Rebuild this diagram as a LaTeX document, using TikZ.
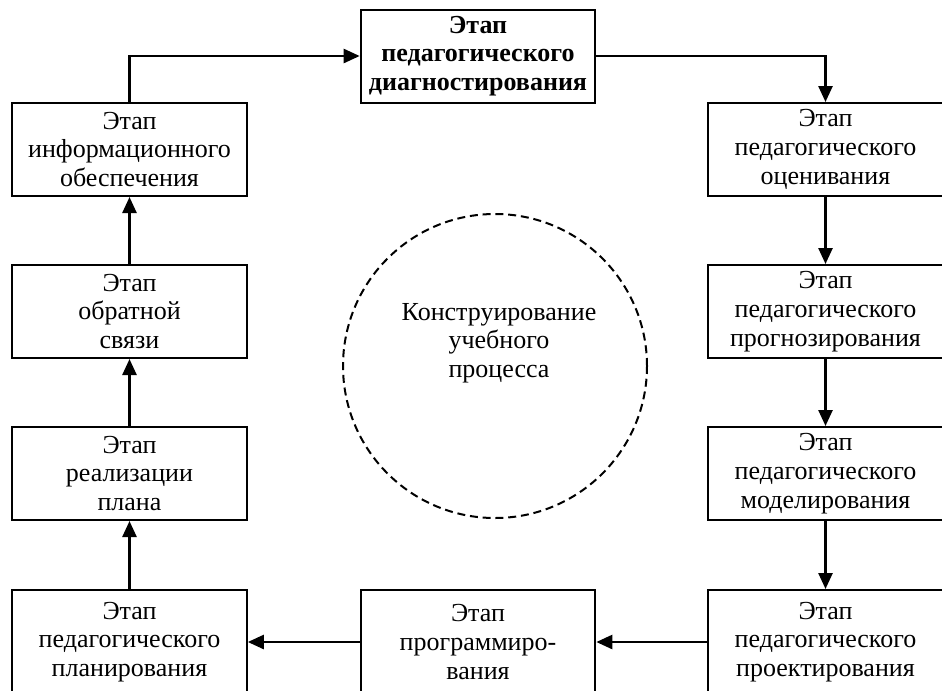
\documentclass[tikz,border=0pt]{standalone}
\usepackage{fontspec}
\setmainfont{Liberation Serif}
\usetikzlibrary{arrows.meta}
\begin{document}
\begin{tikzpicture}[x=0.75pt,y=-0.75pt,
  stage/.style={draw, line width=1.5pt, minimum width=176pt, minimum height=69.75pt,
    align=center, inner sep=0pt, font=\fontsize{19.5}{21.6}\selectfont},
  openstage/.style={stage, minimum height=78pt},
  arr/.style={line width=1.9pt, -{Triangle[length=12pt,width=10.5pt]}},
  hub/.style={circle, draw, dashed, line width=1.5pt, dash pattern=on 6pt off 3.6pt, minimum size=228pt, inner sep=0pt},
  hubtext/.style={align=center, font=\fontsize{19.5}{21.3}\selectfont}]
\useasboundingbox (0,0) rectangle (942,690);
\clip (0,0) rectangle (942,690);
\node[stage, font=\bfseries\fontsize{19.5}{21.6}\selectfont] (top) at (478,56) {Этап\\педагогического\\диагностирования};
\node[stage] (L1) at (129.5,149.5) {Этап\\информационного\\обеспечения};
\node[stage] (L2) at (129.5,311.5) {Этап\\обратной\\связи};
\node[stage] (L3) at (129.5,473.5) {Этап\\реализации\\плана};
\node[stage] (R1) at (825.5,149.5) {Этап\\педагогического\\оценивания};
\node[stage] (R2) at (825.5,311.5) {Этап\\педагогического\\прогнозирования};
\node[stage] (R3) at (825.5,473.5) {Этап\\педагогического\\моделирования};
\node[openstage] (B1) at (129.5,642) {Этап\\педагогического\\планирования};
\node[openstage] (B2) at (478,642) {Этап\\программиро-\\вания};
\node[openstage] (B3) at (825.5,642) {Этап\\педагогического\\проектирования};
\node[hub] (hub) at (495,366) {};
\node[hubtext] (hubt) at (499,343) {Конструирование\\учебного\\процесса};
\draw[arr] (L1.north) |- (top.west);
\draw[arr] (top.east) -| (R1.north);
\draw[arr] (R1.south) -- (R2.north);
\draw[arr] (R2.south) -- (R3.north);
\draw[arr] (R3.south) -- (B3.north);
\draw[arr] (B3.west) -- (B2.east);
\draw[arr] (B2.west) -- (B1.east);
\draw[arr] (B1.north) -- (L3.south);
\draw[arr] (L3.north) -- (L2.south);
\draw[arr] (L2.north) -- (L1.south);
\end{tikzpicture}
\end{document}
